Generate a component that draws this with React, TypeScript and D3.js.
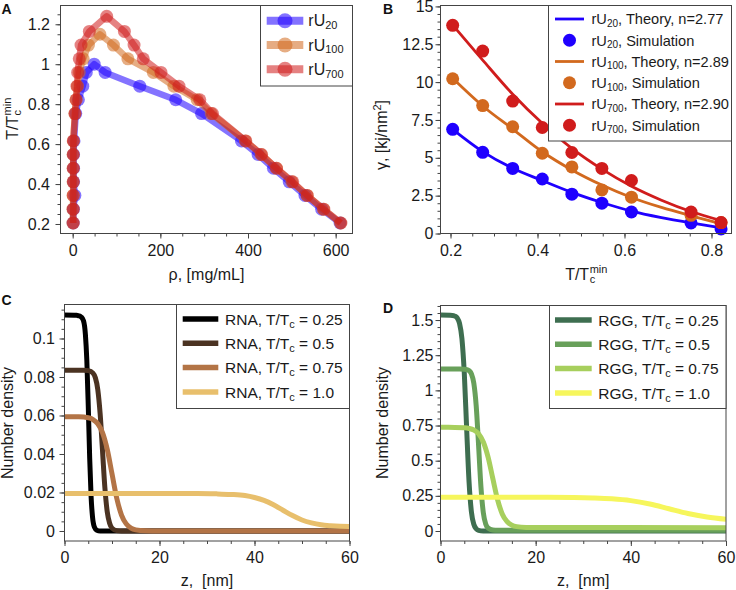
import React, { useEffect, useRef } from 'react';
import * as d3 from 'd3';

// Panel A: coexistence curves (dilute branch -> critical point -> dense branch)
const rU20Rho = [1, 1.5, 5, 2, 2, 2, 3, 7, 13, 23, 31, 49, 74, 153, 235, 294, 385, 423, 458, 494, 530, 568, 610];
const rU20T = [0.205, 0.274, 0.343, 0.411, 0.479, 0.548, 0.616, 0.753, 0.822, 0.890, 0.959, 1.0, 0.959, 0.890, 0.822, 0.753, 0.616, 0.548, 0.479, 0.411, 0.343, 0.274, 0.205];
const rU100Rho = [0.5, 0.5, 1, 1, 1, 1, 1.5, 5, 8, 11, 15, 24, 36, 62, 93, 126, 184, 231, 284, 316, 394, 430, 465, 500, 535, 572, 611];
const rU100T = [0.205, 0.274, 0.343, 0.411, 0.479, 0.548, 0.616, 0.753, 0.822, 0.890, 0.959, 1.027, 1.096, 1.15, 1.096, 1.027, 0.959, 0.890, 0.822, 0.753, 0.616, 0.548, 0.479, 0.411, 0.343, 0.274, 0.205];
const rU700Rho = [1.4, 1.4, 1.4, 1.4, 1.4, 1.4, 1.4, 5.3, 7.5, 9.8, 11.4, 15, 19, 38, 77.6, 118, 140, 161, 201.5, 242.5, 290, 319, 395, 431, 465, 502, 535, 573, 612];
const rU700T = [0.205, 0.274, 0.343, 0.411, 0.479, 0.548, 0.616, 0.753, 0.822, 0.890, 0.959, 1.027, 1.096, 1.164, 1.24, 1.164, 1.096, 1.027, 0.959, 0.890, 0.822, 0.753, 0.616, 0.548, 0.479, 0.411, 0.343, 0.274, 0.205];

// Panel B: surface tension
const simT = [0.205, 0.274, 0.343, 0.411, 0.479, 0.548, 0.616, 0.753, 0.822];
const rU20Sim = [6.88, 5.36, 4.3, 3.6, 2.6, 2.0, 1.42, 0.7, 0.3];
const rU100Sim = [10.22, 8.45, 7.05, 5.3, 4.4, 2.88, 2.4, 1.2, 0.72];
const rU700Sim = [13.75, 12.05, 8.75, 7.0, 5.35, 4.3, 3.5, 1.42, 0.72];
const theoryT = [0.205, 0.274, 0.343, 0.411, 0.479, 0.548, 0.616, 0.685, 0.753, 0.822];
const rU20Theory = [6.88, 5.41, 4.31, 3.5, 2.72, 2.05, 1.48, 1.05, 0.7, 0.38];
const rU100Theory = [10.25, 8.42, 6.9, 5.4, 4.2, 3.2, 2.38, 1.72, 1.17, 0.65];
const rU700Theory = [13.77, 11.45, 9.2, 7.28, 5.62, 4.25, 3.12, 2.2, 1.45, 0.85];

// Panel C: RNA density profiles [z, n]
const rna025: [number, number][] = [[0, 0.1122], [2.5, 0.1121], [3, 0.1118], [3.5, 0.1112], [4, 0.1092], [4.4, 0.1021], [4.7, 0.0886], [5, 0.0652], [5.3, 0.038], [5.6, 0.0178], [5.9, 0.0073], [6.3, 0.002], [6.8, 0.0004], [7.5, 0], [60, 0]];
const rna05: [number, number][] = [[0, 0.0835], [4, 0.0835], [5, 0.0833], [6, 0.082], [6.5, 0.0796], [7, 0.0736], [7.5, 0.061], [8, 0.0418], [8.5, 0.0225], [9, 0.0099], [9.5, 0.004], [10, 0.0015], [11, 0.0002], [12, 0], [60, 0]];
const rna075: [number, number][] = [[0, 0.0594], [3, 0.0593], [5, 0.0588], [6, 0.0579], [7, 0.0557], [8, 0.0511], [9, 0.0424], [10, 0.0297], [11, 0.017], [12, 0.0083], [13, 0.0037], [14, 0.0015], [15, 0.0006], [17, 0.0001], [20, 0], [60, 0]];
const rna10: [number, number][] = [[0, 0.0195], [20, 0.0195], [28, 0.0195], [32, 0.0193], [35, 0.019], [38, 0.0184], [40, 0.0174], [42, 0.0159], [44, 0.0136], [46, 0.0108], [48, 0.008], [50, 0.0057], [52, 0.0042], [54, 0.0032], [56, 0.0027], [58, 0.0024], [60, 0.0023]];

// Panel D: RGG density profiles [z, n]
const rgg025: [number, number][] = [[0, 1.535], [2.5, 1.533], [3, 1.528], [3.5, 1.515], [4, 1.476], [4.5, 1.369], [5, 1.122], [5.5, 0.725], [6, 0.349], [6.5, 0.135], [7, 0.048], [7.5, 0.016], [8, 0.005], [9, 0.0005], [10, 0], [60, 0]];
const rgg05: [number, number][] = [[0, 1.152], [4, 1.152], [5, 1.1507], [5.5, 1.148], [6, 1.14], [6.5, 1.1165], [7, 1.051], [7.5, 0.891], [8, 0.611], [8.5, 0.314], [9, 0.13], [9.5, 0.05], [10, 0.021], [11, 0.0076], [12, 0.006], [60, 0.006]];
const rgg075: [number, number][] = [[0, 0.737], [3, 0.7365], [5, 0.7338], [6, 0.7292], [7, 0.7178], [8, 0.6914], [9, 0.6333], [10, 0.5256], [11, 0.3723], [12, 0.2222], [13, 0.1195], [14, 0.0661], [15, 0.0415], [16, 0.0311], [18, 0.0252], [20, 0.0242], [60, 0.024]];
const rgg10: [number, number][] = [[0, 0.24], [20, 0.24], [28, 0.238], [32, 0.235], [36, 0.229], [40, 0.216], [44, 0.192], [48, 0.158], [52, 0.124], [56, 0.1], [60, 0.084]];

// tick labels
const aXTicks = [0, 200, 400, 600];
const aYTicks = [0.2, 0.4, 0.6, 0.8, 1, 1.2];
const bXTicks = [0.2, 0.4, 0.6, 0.8];
const bYTicks = [0, 2.5, 5, 7.5, 10, 12.5, 15];
const zTicks = [0, 20, 40, 60];
const cYTicks = [0, 0.02, 0.04, 0.06, 0.08, 0.1];
const dYTicks = [0, 0.25, 0.5, 0.75, 1, 1.25, 1.5];

const FONT = '"Liberation Sans", Arial, Helvetica, sans-serif';
const INK = '#1a1a1a';
const FRAME = '#444';
const BLUE = '#1f00ff';
const ORANGE = '#d2691e';
const RED = '#d01c1c';

interface Box { l: number; r: number; t: number; b: number }

const minorRange = (a: number, b: number, step: number) =>
  d3.range(Math.round(a / step), Math.round(b / step) + 1).map(i => i * step);

function axes(svg: any, box: Box, x: any, y: any, o: any) {
  const put = (axis: any, tx: number, ty: number) => {
    const a = svg.append('g').attr('transform', `translate(${tx},${ty})`).call(axis);
    a.select('.domain').remove();
    a.attr('font-size', 16).attr('font-family', FONT).attr('color', INK);
    a.selectAll('line').attr('stroke', FRAME);
    return a;
  };
  put(d3.axisLeft(y).tickValues(o.yMinor).tickSize(3).tickFormat(() => ''), box.l, 0);
  put(d3.axisBottom(x).tickValues(o.xMinor).tickSize(3).tickFormat(() => ''), 0, box.b);
  put(d3.axisLeft(y).tickValues(o.yMajor).tickSize(5).tickPadding(o.yPad).tickFormat((d: any) => String(d)), box.l, 0);
  put(d3.axisBottom(x).tickValues(o.xMajor).tickSize(5).tickPadding(6).tickFormat((d: any) => String(d)), 0, box.b);
}

function frame(svg: any, box: Box) {
  svg.append('rect')
    .attr('x', box.l).attr('y', box.t)
    .attr('width', box.r - box.l).attr('height', box.b - box.t)
    .attr('fill', 'none').attr('stroke', FRAME);
}

function clip(svg: any, id: string, box: Box) {
  svg.append('clipPath').attr('id', id).append('rect')
    .attr('x', box.l).attr('y', box.t).attr('width', box.r - box.l).attr('height', box.b - box.t);
}

// "T/T" with stacked sub c and sup min
function tcLabel(parent: any, cx: number, cy: number, rotate: boolean) {
  const g = parent.append('g')
    .attr('transform', `translate(${cx},${cy})` + (rotate ? ' rotate(-90)' : ''))
    .attr('font-family', FONT).attr('fill', INK);
  const main = g.append('text').attr('font-size', 16).text('T/T');
  const sup = g.append('text').attr('font-size', 11).text('min');
  const sub = g.append('text').attr('font-size', 11).text('c');
  const w1 = (main.node() as SVGTextElement).getComputedTextLength();
  const w2 = (sup.node() as SVGTextElement).getComputedTextLength();
  const x0 = -(w1 + w2) / 2;
  main.attr('x', x0);
  sup.attr('x', x0 + w1 + 0.5).attr('y', -7.5);
  sub.attr('x', x0 + w1 + 0.5).attr('y', 3);
}

function panelLetter(svg: any, t: string, x: number, y: number) {
  svg.append('text').attr('x', x).attr('y', y).attr('font-family', FONT)
    .attr('font-weight', 'bold').attr('font-size', 14).attr('fill', '#111').text(t);
}

function rotTitle(svg: any, text: string, x: number, y: number) {
  svg.append('text').attr('transform', `translate(${x},${y}) rotate(-90)`)
    .attr('text-anchor', 'middle').attr('font-family', FONT).attr('font-size', 16)
    .attr('fill', INK).text(text);
}

const App: React.FC = () => {
  const ref = useRef<SVGSVGElement | null>(null);

  useEffect(() => {
    if (!ref.current) return;
    const svg = d3.select(ref.current);
    svg.selectAll('*').remove();

    // ---------------- Panel A ----------------
    const boxA: Box = { l: 60.5, r: 352.5, t: 5.5, b: 233.5 };
    const xA = d3.scaleLinear().domain([-27.8, 638.4]).range([boxA.l, boxA.r]);
    const yA = d3.scaleLinear().domain([0.1524, 1.294]).range([boxA.b, boxA.t]);
    axes(svg, boxA, xA, yA, {
      xMajor: aXTicks, xMinor: minorRange(0, 600, 50),
      yMajor: aYTicks, yMinor: minorRange(0.2, 1.25, 0.05), yPad: 5.5,
    });
    const seriesA = [
      { rho: rU20Rho, t: rU20T, color: BLUE, name: '20' },
      { rho: rU100Rho, t: rU100T, color: ORANGE, name: '100' },
      { rho: rU700Rho, t: rU700T, color: RED, name: '700' },
    ];
    const lineA = d3.line<[number, number]>().x(d => xA(d[0])).y(d => yA(d[1]));
    seriesA.forEach(s => {
      const pts = s.rho.map((r, i) => [r, s.t[i]] as [number, number]);
      svg.append('path')
        .attr('d', lineA(pts))
        .attr('fill', 'none').attr('stroke', s.color).attr('stroke-width', 6.5)
        .attr('stroke-linejoin', 'round').attr('opacity', 0.55);
      svg.append('g').selectAll('circle').data(pts).enter().append('circle')
        .attr('cx', d => xA(d[0])).attr('cy', d => yA(d[1])).attr('r', 6.5)
        .attr('fill', s.color).attr('opacity', 0.55);
    });
    frame(svg, boxA);
    // legend A
    svg.append('rect').attr('x', 260.5).attr('y', 5.5).attr('width', 92).attr('height', 80.5)
      .attr('fill', '#fff').attr('stroke', FRAME);
    seriesA.forEach((s, i) => {
      const cy = 20.7 + i * 24.3;
      svg.append('line').attr('x1', 266.7).attr('x2', 303.3).attr('y1', cy).attr('y2', cy)
        .attr('stroke', s.color).attr('stroke-width', 8).attr('opacity', 0.55);
      svg.append('circle').attr('cx', 285).attr('cy', cy).attr('r', 7.5)
        .attr('fill', s.color).attr('opacity', 0.55);
      const t = svg.append('text').attr('x', 308.3).attr('y', cy + 5.7)
        .attr('font-family', FONT).attr('font-size', 16).attr('fill', INK);
      t.append('tspan').text('rU');
      t.append('tspan').attr('dy', 2.5).attr('font-size', 11).text(s.name);
    });
    tcLabel(svg, 18, 119, true);
    svg.append('text').attr('x', (boxA.l + boxA.r) / 2).attr('y', 280).attr('text-anchor', 'middle')
      .attr('font-family', FONT).attr('font-size', 16).attr('fill', INK).text('ρ, [mg/mL]');
    panelLetter(svg, 'A', 1.5, 13.5);

    // ---------------- Panel B ----------------
    const boxB: Box = { l: 440.5, r: 731.5, t: 5.5, b: 233.5 };
    const xB = d3.scaleLinear().domain([0.177, 0.846]).range([boxB.l, boxB.r]);
    const yB = d3.scaleLinear().domain([0, 15.06]).range([boxB.b, boxB.t]);
    axes(svg, boxB, xB, yB, {
      xMajor: bXTicks, xMinor: minorRange(0.2, 0.8, 0.05),
      yMajor: bYTicks, yMinor: minorRange(0, 15, 0.5), yPad: 2,
    });
    const seriesB = [
      { sim: rU20Sim, th: rU20Theory, color: BLUE, name: '20', n: '2.77' },
      { sim: rU100Sim, th: rU100Theory, color: ORANGE, name: '100', n: '2.89' },
      { sim: rU700Sim, th: rU700Theory, color: RED, name: '700', n: '2.90' },
    ];
    const lineB = d3.line<number>().x((_, i) => xB(theoryT[i])).y(d => yB(d)).curve(d3.curveMonotoneX);
    seriesB.forEach(s => {
      svg.append('path').attr('d', lineB(s.th)).attr('fill', 'none')
        .attr('stroke', s.color).attr('stroke-width', 2.8);
      svg.append('g').selectAll('circle').data(s.sim).enter().append('circle')
        .attr('cx', (_, i) => xB(simT[i])).attr('cy', d => yB(d)).attr('r', 6.5).attr('fill', s.color);
    });
    frame(svg, boxB);
    svg.append('rect').attr('x', 548.5).attr('y', 5.5).attr('width', 183).attr('height', 135.5)
      .attr('fill', '#fff').attr('stroke', FRAME);
    seriesB.forEach((s, i) => {
      const cyL = 19 + i * 2 * 21.25;
      const cyM = cyL + 21.25;
      svg.append('line').attr('x1', 555).attr('x2', 584).attr('y1', cyL).attr('y2', cyL)
        .attr('stroke', s.color).attr('stroke-width', 2.8);
      svg.append('circle').attr('cx', 569.5).attr('cy', cyM).attr('r', 6.5).attr('fill', s.color);
      [[cyL, `, Theory, n=${s.n}`], [cyM, ', Simulation']].forEach(([cy, rest]) => {
        const t = svg.append('text').attr('x', 591.5).attr('y', (cy as number) + 5.3)
          .attr('font-family', FONT).attr('font-size', 14.6).attr('fill', INK);
        t.append('tspan').text('rU');
        t.append('tspan').attr('dy', 2.5).attr('font-size', 10).text(s.name);
        t.append('tspan').attr('dy', -2.5).text(rest as string);
      });
    });
    tcLabel(svg, (boxB.l + boxB.r) / 2, 280, false);
    {
      const t = svg.append('text').attr('transform', 'translate(387,135) rotate(-90)')
        .attr('text-anchor', 'middle').attr('font-family', FONT).attr('font-size', 16).attr('fill', INK);
      t.append('tspan').text('γ, [kj/nm');
      t.append('tspan').attr('dy', -6).attr('font-size', 11).text('2');
      t.append('tspan').attr('dy', 6).text(']');
    }
    panelLetter(svg, 'B', 383, 14);

    // ---------------- Panels C & D ----------------
    const profilePanel = (
      box: Box, yDomain: [number, number], yTicks: number[], yMinorStep: number, yPad: number,
      curves: { pts: [number, number][]; color: string; label: string }[],
      legend: { l: number; t: number; b: number; lx1: number; lx2: number; tx: number }, id: string,
      prefix: string,
    ) => {
      const x = d3.scaleLinear().domain([0, 60]).range([box.l, box.r]);
      const y = d3.scaleLinear().domain(yDomain).range([box.b, box.t]);
      axes(svg, box, x, y, {
        xMajor: zTicks, xMinor: minorRange(0, 60, 5),
        yMajor: yTicks, yMinor: minorRange(0, yDomain[1], yMinorStep).filter(v => y(v) >= box.t), yPad,
      });
      clip(svg, id, box);
      const line = d3.line<[number, number]>().x(d => x(d[0])).y(d => y(d[1])).curve(d3.curveMonotoneX);
      curves.forEach(c => {
        svg.append('path').attr('d', line(c.pts)).attr('fill', 'none').attr('stroke', c.color)
          .attr('stroke-width', 5).attr('clip-path', `url(#${id})`);
      });
      frame(svg, box);
      svg.append('rect').attr('x', legend.l).attr('y', legend.t).attr('width', box.r - legend.l)
        .attr('height', legend.b - legend.t).attr('fill', '#fff').attr('stroke', FRAME);
      curves.forEach((c, i) => {
        const cy = box.t + 14.5 + i * 24.3;
        svg.append('line').attr('x1', legend.lx1).attr('x2', legend.lx2).attr('y1', cy).attr('y2', cy)
          .attr('stroke', c.color).attr('stroke-width', 5.5);
        const t = svg.append('text').attr('x', legend.tx).attr('y', cy + 5.6)
          .attr('font-family', FONT).attr('font-size', 15.5).attr('fill', INK);
        t.append('tspan').text(`${prefix}, T/T`);
        t.append('tspan').attr('dy', 3).attr('font-size', 11).text('c');
        t.append('tspan').attr('dy', -3).text(` = ${c.label}`);
      });
      svg.append('text').attr('x', (box.l + box.r) / 2).attr('y', 586).attr('text-anchor', 'middle')
        .attr('font-family', FONT).attr('font-size', 16).attr('fill', INK)
        .attr('xml:space', 'preserve').text('z,\u00a0 [nm]');
    };

    profilePanel(
      { l: 64.5, r: 349.5, t: 304.5, b: 541 }, [-0.0052, 0.11766], cYTicks, 0.005, 4.5,
      [
        { pts: rna025, color: '#000000', label: '0.25' },
        { pts: rna05, color: '#4b3322', label: '0.5' },
        { pts: rna075, color: '#b37446', label: '0.75' },
        { pts: rna10, color: '#e8bf6c', label: '1.0' },
      ],
      { l: 176.5, t: 304.5, b: 408.5, lx1: 182.7, lx2: 218.3, tx: 225 }, 'clipC', 'RNA',
    );
    rotTitle(svg, 'Number density', 13, 423);
    panelLetter(svg, 'C', 1.5, 305);

    profilePanel(
      { l: 440.5, r: 726, t: 305.5, b: 541 }, [-0.0711, 1.6034], dYTicks, 0.05, 2,
      [
        { pts: rgg025, color: '#3e6e50', label: '0.25' },
        { pts: rgg05, color: '#68a05a', label: '0.5' },
        { pts: rgg075, color: '#a7cf5d', label: '0.75' },
        { pts: rgg10, color: '#f6f65c', label: '1.0' },
      ],
      { l: 549.5, t: 305.5, b: 408.5, lx1: 555, lx2: 591.7, tx: 598.3 }, 'clipD', 'RGG',
    );
    rotTitle(svg, 'Number density', 388, 423);
    panelLetter(svg, 'D', 383, 313);
  }, []);

  return (
    <svg
      ref={ref}
      width={736}
      height={590}
      style={{ position: 'absolute', left: 0, top: 0, background: '#fff', display: 'block' }}
    />
  );
};

export default App;
